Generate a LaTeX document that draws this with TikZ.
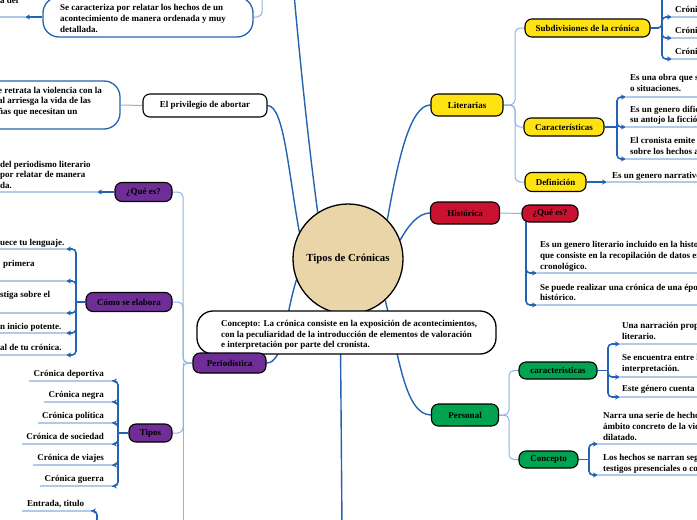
\documentclass[tikz,border=0pt]{standalone}
\usepackage{fontspec}
\setmainfont{Liberation Serif}
\usetikzlibrary{arrows.meta,calc,backgrounds}

\definecolor{branch}{RGB}{36,99,178}
\definecolor{twig}{RGB}{140,180,224}
\definecolor{rule}{RGB}{176,203,234}
\definecolor{litfill}{RGB}{255,226,18}
\definecolor{histfill}{RGB}{200,18,48}
\definecolor{persfill}{RGB}{0,163,80}
\definecolor{perifill}{RGB}{110,46,150}
\definecolor{corefill}{RGB}{233,213,167}

\tikzset{
  topic/.style={draw=black, line width=1.1pt, rounded corners=7pt, inner sep=0pt,
    font=\fontsize{9}{10}\selectfont\bfseries, text=black},
  note/.style={inner sep=0pt, anchor=base west, font=\fontsize{9}{10}\selectfont\bfseries},
  noteR/.style={note, anchor=base east},
  bigbox/.style={line width=1.3pt, rounded corners=16pt, fill=white, inner sep=0pt},
  trunkline/.style={draw=branch, line width=1.4pt},
  twigline/.style={draw=twig, line width=1pt, rounded corners=5pt},
  brace/.style={draw=branch, line width=1.6pt, rounded corners=4pt},
  tip/.style={-{Stealth[length=5pt,width=5pt]}},
  ruleline/.style={draw=rule, line width=1.3pt},
}

\begin{document}
\begin{tikzpicture}[x=1pt,y=-1pt]
\useasboundingbox (0,0) rectangle (697,520);
\clip (0,0) rectangle (697,520);

% ---------- centre ----------
\node[circle, draw=black, line width=1.3pt, fill=corefill, minimum size=110pt, inner sep=0pt,
      font=\fontsize{10.8}{12}\selectfont\bfseries] (core) at (348,259) {Tipos de Crónicas};

% ---------- main topics ----------
\node[topic, fill=white, minimum width=124pt, minimum height=23pt] (priv) at (205,105.5) {El privilegio de abortar};
\node[topic, fill=litfill, minimum width=72pt, minimum height=22pt] (lit) at (467,105) {Literarias};
\node[topic, fill=histfill, minimum width=69pt, minimum height=22pt] (hist) at (465,213) {Histórica};
\node[topic, fill=persfill, minimum width=67pt, minimum height=22pt] (pers) at (465,415) {Personal};

\node[bigbox, draw=black, minimum width=299pt, minimum height=43pt] (concept) at (346.5,332.5) {};
\node[note] (cl1) at (221,326) {Concepto: La crónica consiste en la exposición de acontecimientos,};
\node[note] (cl2) at (221,337) {con la peculiaridad de la introducción de elementos de valoración};
\node[note] (cl3) at (221,347.5) {e interpretación por parte del cronista.};

\node[topic, fill=perifill, minimum width=73pt, minimum height=20pt] (peri) at (229.5,363) {Periodística};

% ---------- Periodística subtree ----------
\node[topic, fill=perifill, minimum width=57pt, minimum height=19pt] (qpur) at (143.5,192) {¿Qué es?};
\node[topic, fill=perifill, minimum width=86pt, minimum height=19pt] (como) at (129,302) {Cómo se elabora};
\node[topic, fill=perifill, minimum width=43pt, minimum height=18pt] (tipos) at (150.5,433) {Tipos};

\node[note] (q1) at (0,167) {del periodismo literario};
\node[note] (q2) at (0,177) {por relatar de manera};
\node[note] (q3) at (0,188) {da.};

\node[note] (e1) at (0,245) {uece tu lenguaje.};
\node[note] (e2) at (3,266) {primera};
\node[note] (e3) at (0,297) {stiga sobre el};
\node[note] (e4) at (0,329.5) {n inicio potente.};
\node[note] (e5) at (0,350) {al de tu crónica.};

\node[noteR] (t1) at (104,376) {Crónica deportiva};
\node[noteR] (t2) at (104,397) {Crónica negra};
\node[noteR] (t3) at (104,418) {Crónica política};
\node[noteR] (t4) at (104,439) {Crónica de sociedad};
\node[noteR] (t5) at (104,460) {Crónica de viajes};
\node[noteR] (t6) at (104,481) {Crónica guerra};

\node[note] (entr) at (27,506) {Entrada, titulo};

% ---------- upper left notes ----------
\node[note] (adel) at (0,3) {a del};
\node[bigbox, draw=branch, minimum width=210pt, minimum height=40pt] (sec) at (148,17) {};
\node[note] (s1) at (60,10) {Se caracteriza por relatar los hechos  de un};
\node[note] (s2) at (60,21) {acontecimiento de manera ordenada y muy};
\node[note] (s3) at (60,32) {detallada.};

\node[bigbox, draw=branch, minimum width=220pt, minimum height=48pt] (viol) at (10,105) {};
\node[note] (v1) at (-2,93) {e retrata la violencia con la};
\node[note] (v2) at (-2,103.5) {al arriesga la vida de las};
\node[note] (v3) at (-2,114) {ñas que necesitan un};

% ---------- Literarias subtree ----------
\node[topic, fill=litfill, minimum width=125pt, minimum height=18pt] (sub) at (587.5,28) {Subdivisiones de la crónica};
\node[topic, fill=litfill, minimum width=80pt, minimum height=18pt] (car) at (564,127) {Características};
\node[topic, fill=litfill, minimum width=61pt, minimum height=19pt] (def) at (555.5,182) {Definición};

\node[note] (sa) at (675,12) {Crónica};
\node[note] (sb) at (675,33) {Crónica};
\node[note] (sc) at (675,54) {Crónica};

\node[note] (ca1) at (630,80) {Es una obra que se};
\node[note] (ca2) at (630,91) {o situaciones.};
\node[note] (cb1) at (630,112) {Es un genero dificil};
\node[note] (cb2) at (630,122.5) {su antojo la ficción};
\node[note] (cc1) at (630,143) {El cronista emite};
\node[note] (cc2) at (630,154) {sobre los hechos a};

\node[note] (dd) at (612,178) {Es un genero narrativo};

% ---------- Histórica subtree ----------
\node[topic, fill=histfill, minimum width=56pt, minimum height=17pt] (qred) at (550,213.5) {¿Qué es?};
\node[note] (h1) at (540,247) {Es un genero literario incluido en la historia};
\node[note] (h2) at (540,258) {que consiste en la recopilación de datos en};
\node[note] (h3) at (540,269) {cronológico.};
\node[note] (h4) at (540,290) {Se puede realizar una crónica de una época};
\node[note] (h5) at (540,300.5) {histórico.};

% ---------- Personal subtree ----------
\node[topic, fill=persfill, minimum width=78pt, minimum height=17pt] (pc) at (558,370.5) {caracteristicas};
\node[topic, fill=persfill, minimum width=59pt, minimum height=17pt] (pcon) at (548.5,459.5) {Concepto};

\node[note] (p1) at (622,328) {Una narración propia};
\node[note] (p2) at (622,339) {literario.};
\node[note] (p3) at (622,360) {Se encuentra entre la};
\node[note] (p4) at (622,371) {interpretación.};
\node[note] (p5) at (622,391) {Este género cuenta con};

\node[note] (n1) at (603,418) {Narra una serie de hechos};
\node[note] (n2) at (603,429) {ámbito concreto de la vida};
\node[note] (n3) at (603,440) {dilatado.};
\node[note] (n4) at (603,460) {Los hechos se narran segun};
\node[note] (n5) at (603,471) {testigos presenciales o como};

% ---------- connectors ----------
\begin{pgfonlayer}{background}
  \fill[white] (0,0) rectangle (697,520);
  \coordinate (topend) at (294,-6);
  \coordinate (botend) at (342,526);
  \draw[trunkline] (core.123) .. controls (308,140) and (300,60) .. (topend);
  \draw[trunkline] (priv.east) .. controls (284,106) and (288,170) .. (core.151);
  \draw[trunkline] (lit.west) .. controls (410,105) and (398,160) .. (core.45);
  \draw[trunkline] (hist.west) .. controls (418,213) and (408,226) .. (core.20);
  \draw[trunkline] (core.-48) .. controls (398,350) and (404,415) .. (pers.west);
  \draw[trunkline] (core.202) .. controls (284,320) and (284,363) .. (peri.east);
  \draw[trunkline] (core.-98) -- (botend);

  % Periodística
  \coordinate (pt) at (183,363);
  \draw[twigline] (peri.west) -- (pt) |- (qpur.east);
  \draw[twigline] (peri.west) -- (pt) |- (como.east);
  \draw[twigline] (peri.west) -- (pt) |- (tipos.east);
  \draw[twigline] (pt) -- (183,526);

  \draw[brace,tip] (qpur.west) -- (97,192);
  \draw[ruleline] (97,192) -- (-5,192);

  \coordinate (cb) at (76,302);
  \draw[brace] (como.west) -- (cb);
  \foreach \yy in {249,281,313,333,355}{
    \draw[brace,tip] (cb) |- (66,\yy);
    \draw[ruleline] (66,\yy) -- (-5,\yy);
  }

  \coordinate (tb) at (118,433);
  \draw[brace] (tipos.west) -- (tb);
  \foreach \t in {t1,t2,t3,t4,t5,t6}{
    \draw[brace,tip] (tb) |- ($(\t.base east)+(8,5)$);
    \draw[ruleline] ($(\t.base east)+(8,5)$) -- ($(\t.base west)+(-4,5)$);
  }

  \draw[brace,tip] (97,526) |- (91,511);
  \draw[ruleline] (91,511) -- (22,511);

  % upper left
  \draw[twigline] (sec.east) -| (262,-6);
  \draw[brace,tip] (sec.west) -- (25,17);
  \draw[ruleline] (25,17) -- (-5,17);
  \draw[twigline] (viol.east) -- (priv.west);

  % Literarias
  \coordinate (lt) at (515,105);
  \draw[twigline] (lit.east) -- (lt) |- (sub.west);
  \draw[twigline] (lit.east) -- (lt) |- (car.west);
  \draw[twigline] (lit.east) -- (lt) |- (def.west);

  \coordinate (sbk) at (662,28);
  \draw[brace] (sub.east) -- (sbk) -- (662,-6);
  \foreach \yy in {17,38,59}{
    \draw[brace,tip] (sbk) |- (672,\yy);
    \draw[ruleline] (672,\yy) -- (705,\yy);
  }

  \coordinate (cbk) at (617,127);
  \draw[brace] (car.east) -- (cbk);
  \foreach \yy in {97,127,159}{
    \draw[brace,tip] (cbk) |- (626,\yy);
    \draw[ruleline] (626,\yy) -- (705,\yy);
  }

  \draw[brace,tip] (def.east) -- (607,182);
  \draw[ruleline] (607,182) -- (705,182);

  % Histórica
  \draw[twigline] (hist.east) -- (qred.west);
  \coordinate (hbk) at (526,222);
  \foreach \yy in {273,305}{
    \draw[brace,tip] (hbk) |- (537,\yy);
    \draw[ruleline] (537,\yy) -- (705,\yy);
  }

  % Personal
  \coordinate (pbk) at (509,415);
  \draw[twigline] (pers.east) -- (pbk) |- (pc.west);
  \draw[twigline] (pers.east) -- (pbk) |- (pcon.west);

  \coordinate (pck) at (608,370.5);
  \draw[brace] (pc.east) -- (pck);
  \foreach \yy in {344,377,397}{
    \draw[brace,tip] (pck) |- (620,\yy);
    \draw[ruleline] (620,\yy) -- (705,\yy);
  }

  \coordinate (pnk) at (589,459.5);
  \draw[brace] (pcon.east) -- (pnk);
  \foreach \yy in {444,475}{
    \draw[brace,tip] (pnk) |- (598,\yy);
    \draw[ruleline] (598,\yy) -- (705,\yy);
  }
\end{pgfonlayer}
\end{tikzpicture}
\end{document}
